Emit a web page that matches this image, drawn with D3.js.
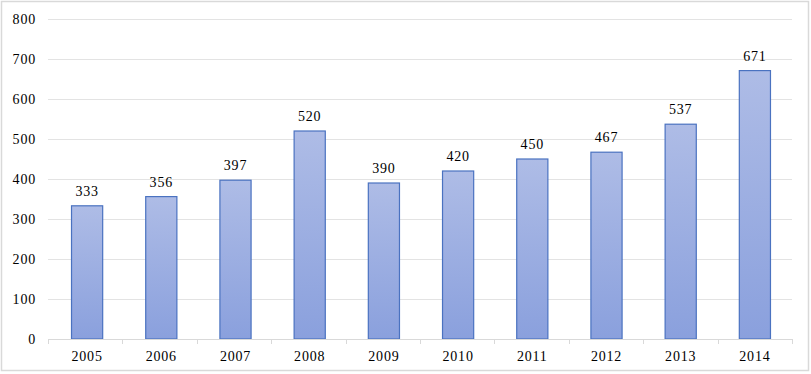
<!DOCTYPE html>
<html>
<head>
<meta charset="utf-8">
<script src="https://cdn.jsdelivr.net/npm/d3@7"></script>
<style>
  body { margin: 0; background: #fff; }
  svg text { font-family: "Liberation Serif", "Times New Roman", serif; fill: #000; }
</style>
</head>
<body>
<div id="chart"></div>
<script>
const years = ['2005', '2006', '2007', '2008', '2009', '2010', '2011', '2012', '2013', '2014'];
const values = [333, 356, 397, 520, 390, 420, 450, 467, 537, 671];
const yTicks = [0, 100, 200, 300, 400, 500, 600, 700, 800];

const width = 811;
const height = 374;
const margin = { top: 19, right: 19, bottom: 35, left: 48 };

const svg = d3.select('#chart').append('svg')
  .attr('width', width)
  .attr('height', height);

const defs = svg.append('defs');
const grad = defs.append('linearGradient')
  .attr('id', 'barGrad')
  .attr('x1', 0).attr('y1', 0).attr('x2', 0).attr('y2', 1);
grad.append('stop').attr('offset', '0%').attr('stop-color', '#aebce6');
grad.append('stop').attr('offset', '100%').attr('stop-color', '#8aa0dd');

// outer border
svg.append('rect')
  .attr('x', 1.5).attr('y', 1.5)
  .attr('width', 807).attr('height', 369)
  .attr('fill', 'none')
  .attr('stroke', '#d9d9d9')
  .attr('stroke-width', 1.5);

const plotW = 744;

const g = svg.append('g')
  .attr('transform', `translate(${margin.left},${margin.top})`);

const x = d3.scaleBand()
  .domain(years)
  .range([2, plotW])
  .paddingInner(0.58)
  .paddingOuter(0.29);

const y = d3.scaleLinear()
  .domain([0, 800])
  .range([320, 0]);

// gridlines
g.selectAll('.grid')
  .data(yTicks.filter((d) => d > 0))
  .enter().append('line')
  .attr('class', 'grid')
  .attr('x1', 0)
  .attr('x2', plotW)
  .attr('y1', (d) => Math.round(y(d)) + 0.5)
  .attr('y2', (d) => Math.round(y(d)) + 0.5)
  .attr('stroke', '#e3e3e3')
  .attr('stroke-width', 1);

// y axis labels
const yAxis = d3.axisLeft(y).tickValues(yTicks).tickSize(0).tickPadding(12);
const yAxisG = g.append('g').call(yAxis);
yAxisG.select('.domain').remove();
yAxisG.selectAll('text')
  .style('font-family', '"Liberation Serif", serif')
  .style('font-size', '14px')
  .style('letter-spacing', '0.8px');

// bars
g.selectAll('.bar')
  .data(values)
  .enter().append('rect')
  .attr('class', 'bar')
  .attr('x', (d, i) => x(years[i]))
  .attr('y', (d) => y(d))
  .attr('width', x.bandwidth())
  .attr('height', (d) => y(0) - y(d))
  .attr('fill', 'url(#barGrad)')
  .attr('stroke', '#4a72c0')
  .attr('stroke-width', 1.2);

// value labels
g.selectAll('.val')
  .data(values)
  .enter().append('text')
  .attr('class', 'val')
  .attr('x', (d, i) => x(years[i]) + x.bandwidth() / 2)
  .attr('y', (d) => y(d) - 10)
  .attr('text-anchor', 'middle')
  .style('font-size', '14px')
  .style('letter-spacing', '0.8px')
  .text((d) => d);

// x axis
const xAxisG = g.append('g')
  .attr('transform', `translate(0,${y(0)})`);
xAxisG.append('line')
  .attr('x1', 0).attr('x2', plotW)
  .attr('y1', 0.5).attr('y2', 0.5)
  .attr('stroke', '#d9d9d9');
const boundaries = d3.range(years.length + 1).map((i) => i * plotW / years.length);
xAxisG.selectAll('.tick-mark')
  .data(boundaries)
  .enter().append('line')
  .attr('class', 'tick-mark')
  .attr('x1', (d) => Math.round(d) + 0.5)
  .attr('x2', (d) => Math.round(d) + 0.5)
  .attr('y1', 0)
  .attr('y2', 5)
  .attr('stroke', '#d9d9d9');
xAxisG.selectAll('.xlab')
  .data(years)
  .enter().append('text')
  .attr('class', 'xlab')
  .attr('x', (d) => x(d) + x.bandwidth() / 2)
  .attr('y', 22)
  .attr('text-anchor', 'middle')
  .style('font-size', '14px')
  .style('letter-spacing', '0.8px')
  .text((d) => d);
</script>
</body>
</html>
